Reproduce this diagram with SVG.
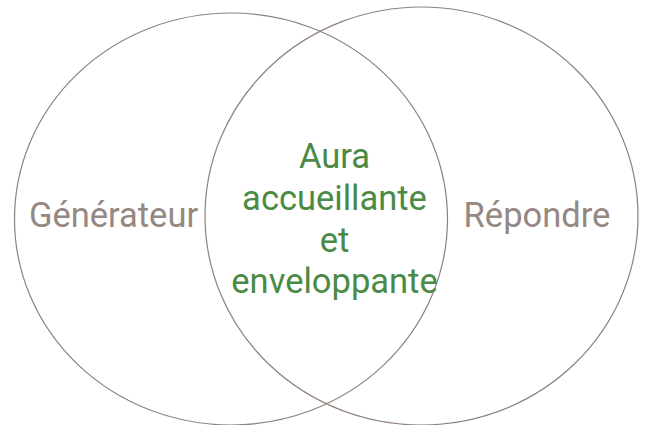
<svg xmlns="http://www.w3.org/2000/svg" width="647" height="425" viewBox="0 0 647 425">
<style>
.c{fill:none;stroke:#8f817c;stroke-width:1.2}
.l{font-family:Roboto,"Liberation Sans",sans-serif;font-size:34.5px;fill:#958782;text-anchor:middle}
.m{font-family:Roboto,"Liberation Sans",sans-serif;font-size:34.5px;fill:#4b8a45;text-anchor:middle}
</style>
<rect width="647" height="425" fill="#fff"/>
<g id="left">
<ellipse class="c" cx="231" cy="219" rx="216.5" ry="206"/>
<text class="l" x="113.5" y="227">Générateur</text>
</g>
<g id="right">
<ellipse class="c" cx="421.5" cy="216" rx="216.5" ry="209"/>
<text class="l" x="537" y="227">Répondre</text>
</g>
<g id="intersection">
<text class="m" x="334.5" y="168">Aura</text>
<text class="m" x="334.5" y="210">accueillante</text>
<text class="m" x="334.5" y="251.5">et</text>
<text class="m" x="334.5" y="293">enveloppante</text>
</g>
<g id="connectors"></g>
</svg>
